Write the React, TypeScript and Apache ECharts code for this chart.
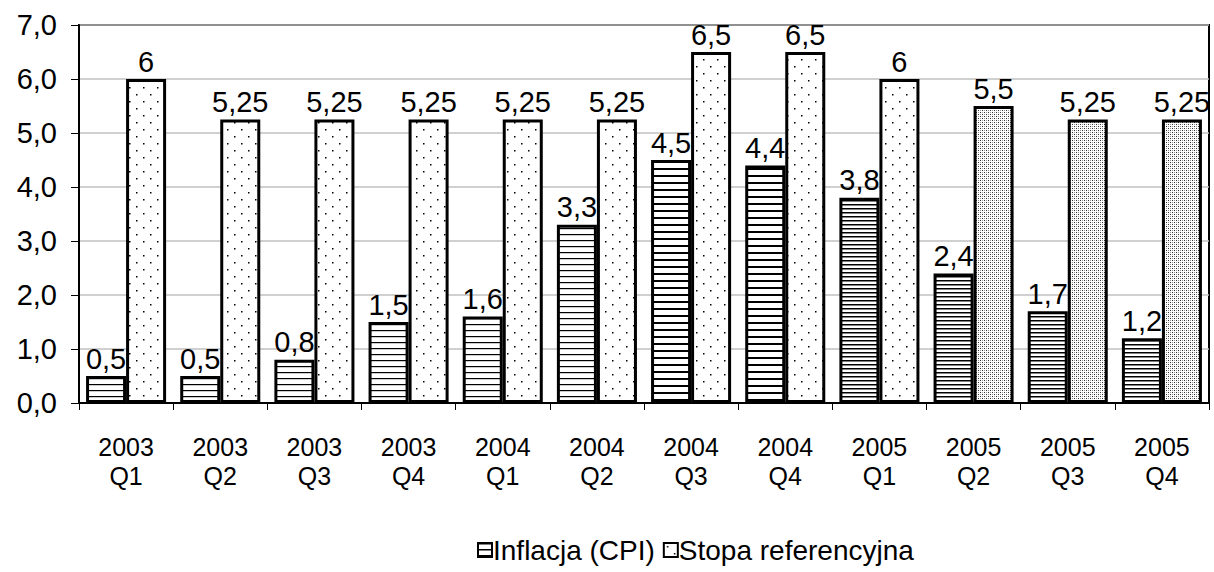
import React, { useEffect, useRef } from "react";
import * as echarts from "echarts";

const categories = [
  "2003\nQ1", "2003\nQ2", "2003\nQ3", "2003\nQ4",
  "2004\nQ1", "2004\nQ2", "2004\nQ3", "2004\nQ4",
  "2005\nQ1", "2005\nQ2", "2005\nQ3", "2005\nQ4",
];
const inflation = [0.5, 0.5, 0.8, 1.5, 1.6, 3.3, 4.5, 4.4, 3.8, 2.4, 1.7, 1.2];
const refRate = [6, 5.25, 5.25, 5.25, 5.25, 5.25, 6.5, 6.5, 6, 5.5, 5.25, 5.25];
const yTicks = [0, 1, 2, 3, 4, 5, 6, 7];
const seriesNames = ["Inflacja (CPI)", "Stopa referencyjna"];

function fmt(v: number, digits?: number): string {
  const s = digits === undefined ? String(v) : v.toFixed(digits);
  return s.replace(".", ",");
}

function makeCanvas(w: number, h: number, draw: (ctx: CanvasRenderingContext2D) => void) {
  const c = document.createElement("canvas");
  c.width = w;
  c.height = h;
  const ctx = c.getContext("2d")!;
  ctx.fillStyle = "#ffffff";
  ctx.fillRect(0, 0, w, h);
  draw(ctx);
  return { image: c.toDataURL(), repeat: "repeat", imageWidth: w, imageHeight: h };
}

function stripes(spacing: number, lineW: number) {
  return makeCanvas(4, spacing, (ctx) => {
    ctx.fillStyle = "#000000";
    ctx.fillRect(0, 0, 4, lineW);
  });
}

function sparseDots() {
  return makeCanvas(14, 14, (ctx) => {
    ctx.fillStyle = "#000000";
    ctx.fillRect(3, 3, 1.5, 1.5);
    ctx.fillRect(10, 10, 1.5, 1.5);
  });
}

function denseDots() {
  return makeCanvas(4, 4, (ctx) => {
    ctx.fillStyle = "#333333";
    ctx.fillRect(0, 0, 1, 1);
    ctx.fillRect(2, 2, 1, 1);
    ctx.fillStyle = "#999999";
    ctx.fillRect(2, 0, 1, 1);
    ctx.fillRect(0, 2, 1, 1);
  });
}

export default function App() {
  const ref = useRef<HTMLDivElement>(null);
  useEffect(() => {
    if (!ref.current) return;
    const chart = echarts.init(ref.current, undefined, { renderer: "svg" });
    const stripeA = stripes(6, 1.2);
    const stripeB = stripes(7, 2);
    const stripeC = stripes(4, 1.5);
    const dotA = sparseDots();
    const dotB = denseDots();
    const font = "'Liberation Sans', Arial, sans-serif";
    const border = { borderColor: "#000", borderWidth: 3 };

    const infData = inflation.map((v, i) => ({
      value: v,
      itemStyle: { color: i < 6 ? stripeA : i < 8 ? stripeB : stripeC, ...border },
    }));
    const rateData = refRate.map((v, i) => ({
      value: v,
      itemStyle: { color: i < 9 ? dotA : dotB, ...border },
    }));

    const label = {
      show: true,
      position: "top",
      distance: 3,
      color: "#000",
      fontSize: 29,
      fontFamily: font,
      formatter: (p: any) => fmt(p.value),
    };

    chart.setOption({
      animation: false,
      backgroundColor: "#fff",
      grid: {
        left: 79,
        right: 5,
        top: 25,
        bottom: 169,
        show: true,
        borderColor: "#000",
        borderWidth: 2,
        backgroundColor: "transparent",
      },
      legend: {
        data: [
          { name: seriesNames[0], itemStyle: { color: stripes(6, 1.5), borderColor: "#000", borderWidth: 2 } },
          { name: seriesNames[1], itemStyle: { color: dotA, borderColor: "#000", borderWidth: 2 } },
        ],
        left: 477,
        top: 536,
        icon: "rect",
        itemWidth: 14,
        itemHeight: 14,
        itemGap: 8,
        padding: 0,
        textStyle: { fontSize: 28, fontFamily: font, color: "#000", padding: [0, 0, 0, -4] },
      },
      xAxis: {
        type: "category",
        data: categories,
        axisLine: { lineStyle: { color: "#000", width: 2 } },
        axisTick: { show: true, length: 7, lineStyle: { color: "#000", width: 1 } },
        axisLabel: {
          color: "#000",
          fontSize: 25,
          fontFamily: font,
          lineHeight: 29,
          margin: 29,
          interval: 0,
        },
      },
      yAxis: {
        type: "value",
        min: 0,
        max: 7,
        interval: 1,
        axisLine: { show: true, lineStyle: { color: "#000", width: 2 } },
        axisTick: { show: true, length: 8, lineStyle: { color: "#000", width: 1 } },
        axisLabel: {
          color: "#000",
          fontSize: 29,
          fontFamily: font,
          margin: 22,
          formatter: (v: number) => (yTicks.includes(v) ? fmt(v, 1) : ""),
        },
        splitLine: { show: true, lineStyle: { color: "#c0c0c0", width: 1.5 } },
      },
      series: [
        {
          name: seriesNames[0],
          type: "bar",
          data: infData,
          barGap: "0%",
          barCategoryGap: "15%",
          itemStyle: { color: stripeA, ...border },
          label,
        },
        {
          name: seriesNames[1],
          type: "bar",
          data: rateData,
          barGap: "0%",
          barCategoryGap: "15%",
          itemStyle: { color: dotA, ...border },
          label,
        },
      ],
    });
    return () => chart.dispose();
  }, []);
  return <div ref={ref} style={{ width: 1214, height: 572, position: "absolute", left: 0, top: 0 }} />;
}
